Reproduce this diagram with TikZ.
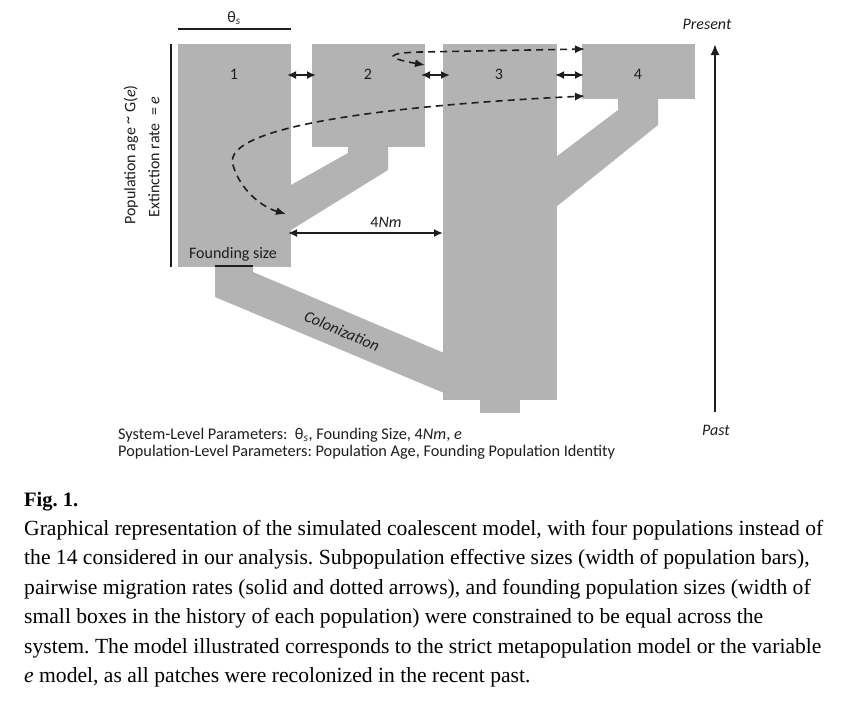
\documentclass[tikz,border=0pt]{standalone}
\usepackage{fontspec}
\setmainfont{Liberation Serif}
\newfontfamily\calib{Carlito}
\usetikzlibrary{arrows.meta}
\definecolor{popgray}{HTML}{B3B3B3}
\definecolor{ink}{HTML}{1E1E1E}
\frenchspacing
\tikzset{
  pop/.style={fill=popgray, draw=none},
  lbl/.style={font=\calib\fontsize{16}{18}\selectfont, text=ink, inner sep=0pt},
  mig/.style={ink, line width=2pt, {Latex[length=9pt,width=8pt]}-{Latex[length=9pt,width=8pt]}},
  dmig/.style={ink, line width=1.6pt, dash pattern=on 7pt off 5pt, {Latex[length=10pt,width=8pt]}-{Latex[length=10pt,width=8pt]}},
  capt/.style={font=\fontsize{21.6}{26}\selectfont, anchor=base west, inner sep=0pt},
}
\begin{document}
\begin{tikzpicture}[x=1pt,y=-1pt]
\useasboundingbox (0,0) rectangle (851,705);
% population bars
\fill[pop] (178,44) rectangle (291,267);
\fill[pop] (312,44) rectangle (425,147);
\fill[pop] (348,146) -- (388,146) -- (388,170) -- (291,230) -- (291,185) -- (348,153) -- cycle;
\fill[pop] (443,44) rectangle (557,400);
\fill[pop] (480,399) rectangle (520,413);
\fill[pop] (582,44) rectangle (695,99);
\fill[pop] (618,98) -- (658,98) -- (658,125) -- (556,207) -- (556,157) -- (618,110) -- cycle;
\fill[pop] (215,266) -- (253,266) -- (253,272) -- (444,353) -- (444,393) -- (215,297) -- cycle;
% founding size bar
\coordinate (fs1) at (215,266);
\coordinate (fs2) at (253,266);
\draw[ink, line width=2pt] (fs1) -- (fs2);
% theta line
\coordinate (th1) at (178,29);
\coordinate (th2) at (291,29);
\draw[ink, line width=2pt] (th1) -- (th2);
\node[lbl] (theta) at (234,18) {θ\textsubscript{\textit{s}}};
% left age line
\coordinate (ag1) at (171,44);
\coordinate (ag2) at (171,267);
\draw[ink, line width=2pt] (ag1) -- (ag2);
\node[lbl, rotate=90] (agelbl) at (131,155) {Population age \raisebox{0.35ex}{\textasciitilde}\ G(\textit{e})};
\node[lbl, rotate=90] (extlbl) at (154,157) {Extinction rate \ = \textit{e}};
% numbers
\node[lbl] (n1) at (234,74) {1};
\node[lbl] (n2) at (368,74) {2};
\node[lbl] (n3) at (499,74) {3};
\node[lbl] (n4) at (638,74) {4};
\node[lbl] (found) at (233,254) {Founding size};
\node[lbl, rotate=-23] (colon) at (342,331) {\textit{Colonization}};
% migration arrows
\coordinate (m1a) at (287,75); \coordinate (m1b) at (316,75);
\coordinate (m2a) at (421,75); \coordinate (m2b) at (450,75);
\coordinate (m3a) at (555,75); \coordinate (m3b) at (584,75);
\draw[mig] (m1a) -- (m1b);
\draw[mig] (m2a) -- (m2b);
\draw[mig] (m3a) -- (m3b);
\coordinate (nma) at (288,233); \coordinate (nmb) at (443,233);
\draw[mig] (nma) -- (nmb);
\node[lbl] (nm) at (386,222) {4\textit{Nm}};
% dashed migration
\coordinate (da1) at (425,65); \coordinate (da2) at (585,49);
\draw[dmig] (da1) .. controls (385,58) and (385,53) .. (420,52) -- (da2);
\coordinate (db1) at (286,214); \coordinate (db2) at (585,96);
\draw[dmig] (db1) .. controls (262,207) and (240,190) .. (233,165) .. controls (220,125) and (400,105) .. (db2);
% time arrow
\coordinate (tpast) at (715,412); \coordinate (tpres) at (715,44);
\draw[ink, line width=2pt, -{Latex[length=11pt,width=9pt]}] (tpast) -- (tpres);
\node[lbl] (present) at (707,24) {\textit{Present}};
\node[lbl] (past) at (716,430) {\textit{Past}};
% parameters
\node[lbl, font=\calib\fontsize{16.3}{18}\selectfont, anchor=base west] (sys) at (118,439) {System-Level Parameters: \ θ\textsubscript{\textit{s}}, Founding Size, 4\textit{Nm}, \textit{e}};
\node[lbl, font=\calib\fontsize{16.3}{18}\selectfont, anchor=base west] (popl) at (118,456) {Population-Level Parameters: Population Age, Founding Population Identity};
% caption
\node[capt, font=\fontsize{20.5}{24}\selectfont] (fig) at (24,506) {\textbf{Fig. 1.}};
\node[capt] (c1) at (24,535) {Graphical representation of the simulated coalescent model, with four populations instead of};
\node[capt] (c2) at (24,564.5) {the 14 considered in our analysis. Subpopulation effective sizes (width of population bars),};
\node[capt] (c3) at (24,594) {pairwise migration rates (solid and dotted arrows), and founding population sizes (width of};
\node[capt] (c4) at (24,623.5) {small boxes in the history of each population) were constrained to be equal across the};
\node[capt] (c5) at (24,653) {system. The model illustrated corresponds to the strict metapopulation model or the variable};
\node[capt] (c6) at (24,682.5) {\textit{e} model, as all patches were recolonized in the recent past.};
\end{tikzpicture}
\end{document}
